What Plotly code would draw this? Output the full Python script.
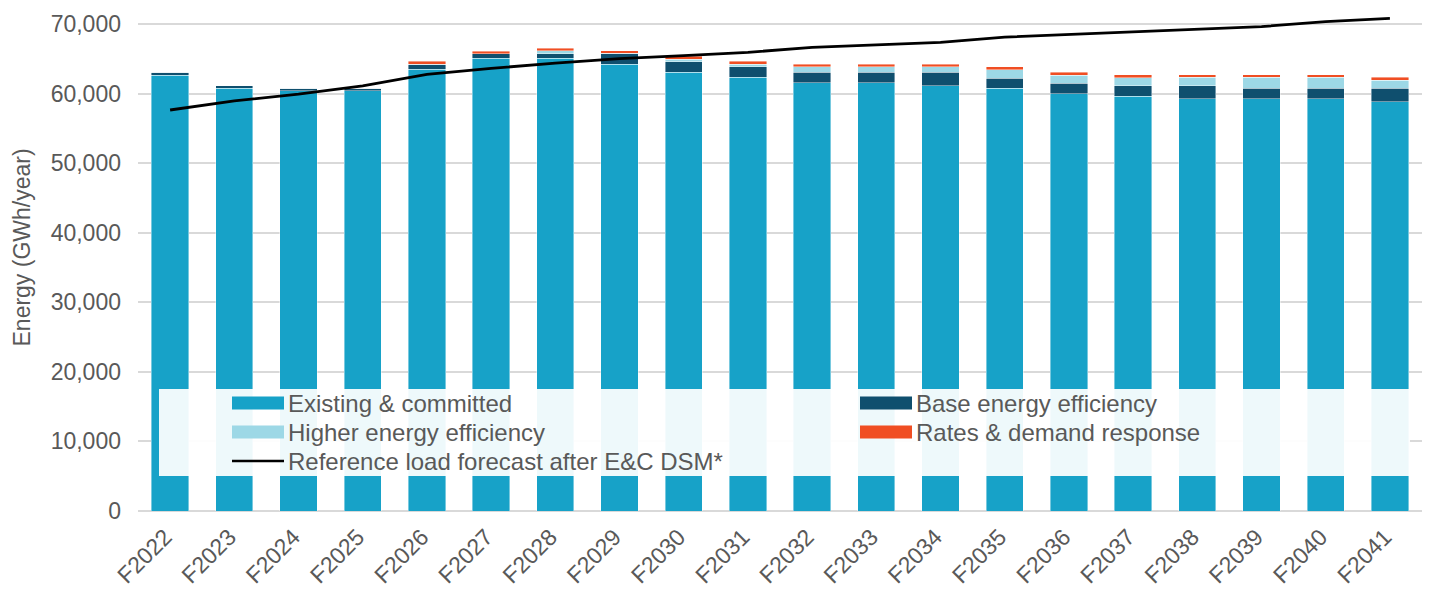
import plotly.graph_objects as go

years = ["F2022", "F2023", "F2024", "F2025", "F2026", "F2027", "F2028", "F2029", "F2030", "F2031",
         "F2032", "F2033", "F2034", "F2035", "F2036", "F2037", "F2038", "F2039", "F2040", "F2041"]
existing = [62640, 60760, 60400, 60430, 63460, 65050, 65050, 64230, 63070, 62310,
            61530, 61530, 61150, 60760, 60000, 59610, 59230, 59230, 59230, 58850]
base_ee = [430, 385, 380, 330, 770, 670, 670, 1540, 1490, 1540,
           1490, 1490, 1876, 1440, 1490, 1490, 1876, 1490, 1490, 1876]
higher_ee = [0, 0, 0, 0, 0, 0, 430, 0, 385, 385,
             817, 817, 817, 1200, 1150, 1200, 1200, 1590, 1590, 1200]
rates_dr = [0, 0, 0, 0, 385, 385, 385, 385, 385, 385,
            385, 385, 385, 430, 430, 385, 385, 385, 385, 385]
ref_load = [57630, 58930, 59900, 61100, 62740, 63610, 64370, 65000, 65430, 65920,
            66630, 66970, 67360, 68100, 68460, 68850, 69230, 69610, 70330, 70810]
y_ticks = [0, 10000, 20000, 30000, 40000, 50000, 60000, 70000]

C_EXIST = "#17a2c8"
C_BASE = "#0f4f6e"
C_HIGH = "#9dd8e6"
C_RATE = "#f04e23"
TXT = "#595959"
FONT = "Liberation Sans, Arial, sans-serif"

fig = go.Figure()
for name, vals, col in [("Existing & committed", existing, C_EXIST),
                        ("Base energy efficiency", base_ee, C_BASE),
                        ("Higher energy efficiency", higher_ee, C_HIGH),
                        ("Rates & demand response", rates_dr, C_RATE)]:
    fig.add_trace(go.Bar(x=years, y=vals, name=name, marker_color=col,
                         marker_line_width=0.6, marker_line_color="rgba(255,255,255,0.7)",
                         showlegend=False))
fig.add_trace(go.Scatter(x=years, y=ref_load, mode="lines", name="Reference load forecast after E&C DSM*",
                         line=dict(color="black", width=2.8), showlegend=False))

# plot area geometry (pixels)
L, R, T, B = 138, 1422, 10, 511
def px(x):
    return (x - L) / (R - L)
def py(y):
    return (B - y) / (B - T)

shapes = [dict(type="rect", xref="paper", yref="paper", x0=px(159), x1=px(1410), y0=py(476), y1=py(389),
               fillcolor="rgba(255,255,255,0.93)", line_width=0, layer="above")]
annotations = []
legend_items = [
    ("Existing & committed", C_EXIST, "bar", 232, 403),
    ("Base energy efficiency", C_BASE, "bar", 860, 403),
    ("Higher energy efficiency", C_HIGH, "bar", 232, 432),
    ("Rates & demand response", C_RATE, "bar", 860, 432),
    ("Reference load forecast after E&C DSM*", "black", "line", 232, 461),
]
for text, col, kind, x0, yc in legend_items:
    if kind == "bar":
        shapes.append(dict(type="rect", xref="paper", yref="paper", x0=px(x0), x1=px(x0 + 52),
                           y0=py(yc + 6.5), y1=py(yc - 6.5), fillcolor=col, line_width=0, layer="above"))
    else:
        shapes.append(dict(type="line", xref="paper", yref="paper", x0=px(x0), x1=px(x0 + 52),
                           y0=py(yc), y1=py(yc), line=dict(color=col, width=2.5), layer="above"))
    annotations.append(dict(xref="paper", yref="paper", x=px(x0 + 54), y=py(yc), text=text,
                            showarrow=False, xanchor="left", yanchor="middle",
                            font=dict(family=FONT, size=24, color=TXT)))

# y axis title
annotations.append(dict(xref="paper", yref="paper", x=px(21.5), y=py(248), text="Energy (GWh/year)",
                        textangle=-90, showarrow=False, xanchor="center", yanchor="middle",
                        font=dict(family=FONT, size=23, color=TXT)))

fig.update_layout(
    width=1433, height=592,
    margin=dict(l=L, r=1433 - R, t=T, b=592 - B),
    paper_bgcolor="white", plot_bgcolor="white",
    barmode="stack", bargap=0.42,
    font=dict(family=FONT, size=23, color=TXT),
    shapes=shapes, annotations=annotations,
    showlegend=False,
)
fig.update_xaxes(tickangle=-45, tickfont=dict(size=23, color=TXT), showgrid=False,
                 showline=False, ticks="", automargin=False, ticklabelstandoff=7, ticklabelshift=-5)
fig.update_yaxes(range=[0, 72000], tickvals=y_ticks, tickformat=",", showgrid=True,
                 gridcolor="#d9d9d9", gridwidth=2, zeroline=True, zerolinecolor="#d9d9d9",
                 zerolinewidth=2, tickfont=dict(size=23, color=TXT), ticks="", automargin=False,
                 ticklabelstandoff=16)

fig.write_html("out.html", post_script="document.body.style.margin='0';",
               config={"displayModeBar": False})
